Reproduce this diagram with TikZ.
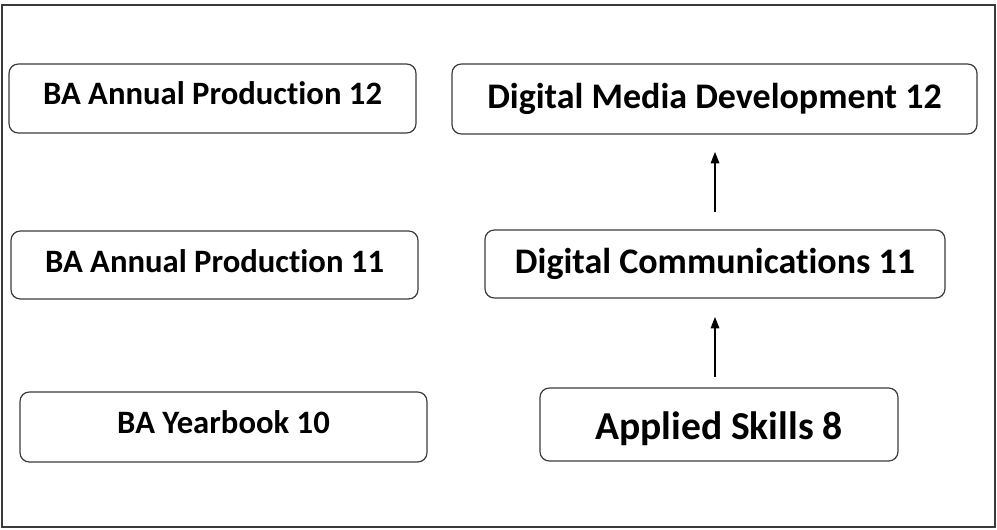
\documentclass[tikz,border=0pt]{standalone}
\usepackage{fontspec}
\setmainfont[Ligatures=NoCommon]{Carlito}
\usetikzlibrary{arrows.meta}
\definecolor{edgegray}{HTML}{3A3A3A}
\tikzset{
  box/.style={draw=edgegray, line width=0.9pt, rounded corners=7pt, inner sep=0pt, align=center},
  small/.style={font=\fontsize{24.5}{28}\selectfont\bfseries},
  mid/.style={font=\fontsize{27}{31}\selectfont\bfseries},
  big/.style={font=\fontsize{29.7}{34}\selectfont\bfseries},
  smallcaps/.style={text height=15.5pt, text depth=#1},
  midcaps/.style={text height=17.1pt, text depth=#1},
  bigcaps/.style={text height={18.8pt+#1}, text depth=0pt},
  link/.style={draw=black, line width=0.8pt, -{Triangle[length=8.5pt,width=6.5pt]}}
}
\begin{document}
\begin{tikzpicture}[x=0.75pt,y=-0.75pt]
\useasboundingbox (0,0) rectangle (997,529);
\draw[edgegray, line width=0.9pt] (2,5) rectangle (995,527);
\node[box, small, smallcaps=7.2pt, minimum width=305.25pt, minimum height=51.75pt] (ap12) at (212.5,98.5) {BA Annual Production 12};
\node[box, mid, midcaps=3pt, minimum width=393.75pt, minimum height=52.5pt] (dmd) at (714.5,99) {Digital Media Development 12};
\node[box, small, smallcaps=5pt, minimum width=305.25pt, minimum height=51pt] (ap11) at (214.5,265) {BA Annual Production 11};
\node[box, mid, midcaps=2.2pt, minimum width=345pt, minimum height=51pt] (dc) at (715,264) {Digital Communications 11};
\node[box, small, smallcaps=6.3pt, minimum width=305.25pt, minimum height=52.5pt] (yb) at (223.5,427) {BA Yearbook 10};
\node[box, big, bigcaps=3.4pt, minimum width=268.5pt, minimum height=54.75pt] (as) at (719,424.5) {Applied Skills 8};
\coordinate (a1s) at (715,212);
\coordinate (a1e) at (715,152);
\coordinate (a2s) at (715,377);
\coordinate (a2e) at (715,317);
\draw[link] (a1s) -- (a1e);
\draw[link] (a2s) -- (a2e);
\end{tikzpicture}
\end{document}
